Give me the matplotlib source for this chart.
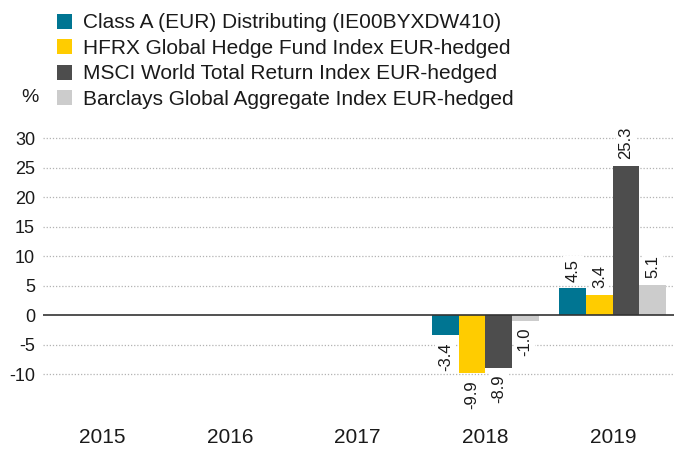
import numpy as np
import matplotlib
matplotlib.use("Agg")
import matplotlib.pyplot as plt
from matplotlib.patches import Patch

plt.rcParams['font.family'] = ['Liberation Sans', 'DejaVu Sans']

# data
years = ['2015', '2016', '2017', '2018', '2019']
series_names = [
    'Class A (EUR) Distributing (IE00BYXDW410)',
    'HFRX Global Hedge Fund Index EUR-hedged',
    'MSCI World Total Return Index EUR-hedged',
    'Barclays Global Aggregate Index EUR-hedged',
]
class_a = [np.nan, np.nan, np.nan, -3.4, 4.5]
hfrx = [np.nan, np.nan, np.nan, -9.9, 3.4]
msci = [np.nan, np.nan, np.nan, -8.9, 25.3]
barclays = [np.nan, np.nan, np.nan, -1.0, 5.1]
yticks = [-10, -5, 0, 5, 10, 15, 20, 25, 30]

colors = ['#007592', '#ffcc00', '#4d4d4d', '#cccccc']
text_color = '#1a1a1a'

fig = plt.figure(figsize=(6.74, 4.5), dpi=100)
ax = fig.add_axes([0.064, 0.064, 0.936, 0.6424])

x = np.arange(len(years))
width = 0.209
all_series = [class_a, hfrx, msci, barclays]

for yv in yticks:
    if yv == 0:
        continue
    ax.axhline(yv, color='#b3b3b3', lw=0.9, linestyle=(0, (1, 1.5)), zorder=0)
ax.axhline(0, color='#333333', lw=1.2, zorder=3)

for i, (vals, col) in enumerate(zip(all_series, colors)):
    pos = x + (i - 1.5) * width
    ax.bar(pos, vals, width=width, color=col, zorder=2)
    for p, v in zip(pos, vals):
        if np.isnan(v):
            continue
        off = 5 if v >= 0 else -5
        ax.annotate(f'{v:.1f}', (p, v), xytext=(0, off), textcoords='offset points',
                    rotation=90, ha='center', va='bottom' if v >= 0 else 'top',
                    fontsize=12, color=text_color, zorder=4,
                    bbox=dict(boxstyle='square,pad=0.15', fc='white', ec='none'))

ax.set_xlim(-0.467, 4.48)
ax.set_ylim(-18, 31)
ax.set_xticks(x)
ax.set_xticklabels(years, fontsize=15, color=text_color)
ax.set_yticks(yticks)
ax.set_yticklabels([str(t) for t in yticks], fontsize=13, color=text_color)
ax.tick_params(axis='x', length=0, pad=5)
ax.tick_params(axis='y', length=0, pad=5.8)
for s in ax.spines.values():
    s.set_visible(False)

handles = [Patch(facecolor=c, edgecolor='none') for c in colors]
fig.legend(handles, series_names, loc='upper left', bbox_to_anchor=(0.0845, 0.970),
           frameon=False, fontsize=15, handlelength=0.74, handleheight=0.74,
           handletextpad=0.5, labelspacing=0.31, borderpad=0, borderaxespad=0,
           labelcolor=text_color)
fig.text(30 / 674, 1 - 97 / 450, '%', ha='center', va='center', fontsize=14,
         color=text_color)

fig.savefig('out.png', dpi=100)
